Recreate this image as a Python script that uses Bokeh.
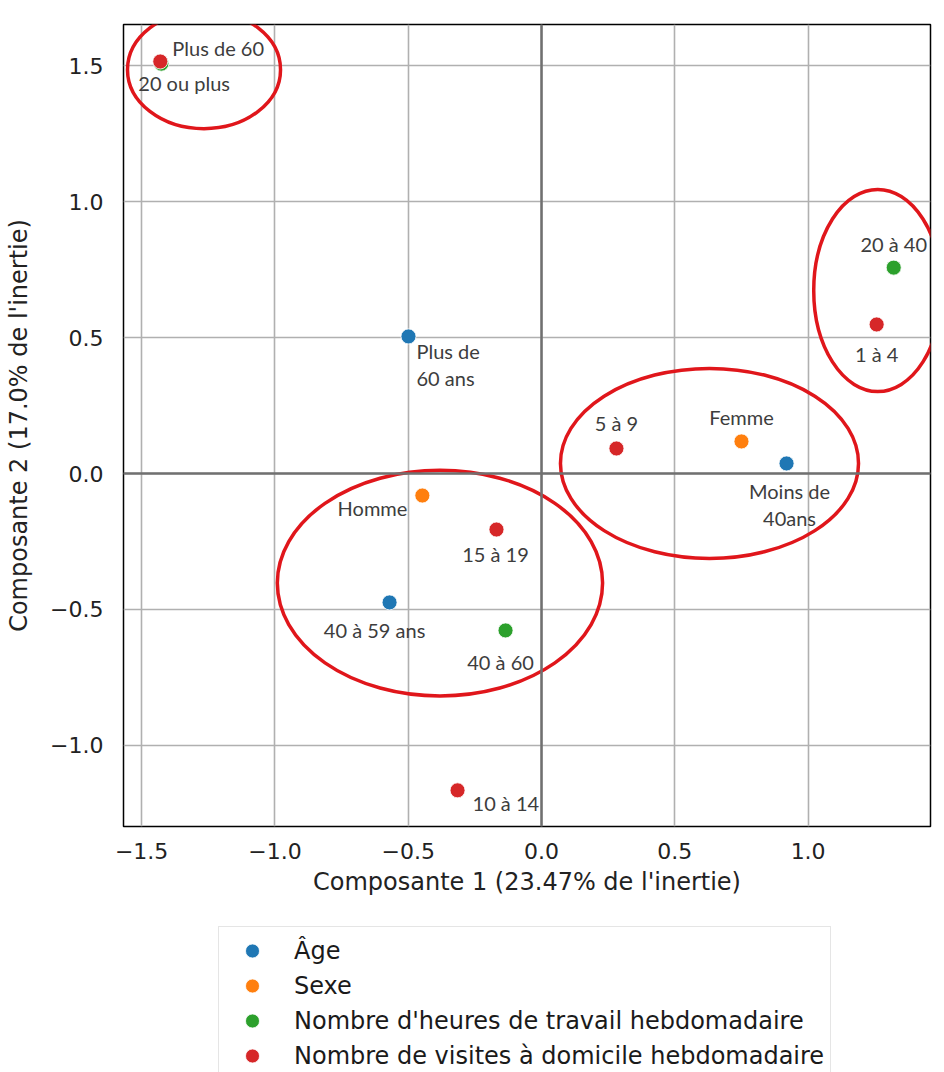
from bokeh.plotting import figure
from bokeh.layouts import column
from bokeh.models import Legend, LegendItem, FixedTicker, Span, ColumnDataSource
from bokeh.core.properties import value
from bokeh.embed import file_html
from bokeh.resources import INLINE

# ---------------- data ----------------
age_labels = ["Plus de\n60 ans", "Moins de\n40ans", "40 à 59 ans"]
age_x = [-0.499, 0.919, -0.570]
age_y = [0.504, 0.037, -0.474]

sexe_labels = ["Femme", "Homme"]
sexe_x = [0.750, -0.447]
sexe_y = [0.118, -0.081]

heures_labels = ["Plus de 60", "20 à 40", "40 à 60"]
heures_x = [-1.426, 1.321, -0.135]
heures_y = [1.507, 0.757, -0.577]

visites_labels = ["20 ou plus", "1 à 4", "5 à 9", "15 à 19", "10 à 14"]
visites_x = [-1.430, 1.257, 0.281, -0.169, -0.315]
visites_y = [1.515, 0.548, 0.092, -0.206, -1.165]

series_names = ["Âge", "Sexe", "Nombre d'heures de travail hebdomadaire",
                "Nombre de visites à domicile hebdomadaire"]

x_ticks = [-1.5, -1.0, -0.5, 0.0, 0.5, 1.0]
x_tick_labels = ["−1.5", "−1.0", "−0.5", "0.0", "0.5", "1.0"]
y_ticks = [-1.0, -0.5, 0.0, 0.5, 1.0, 1.5]
y_tick_labels = ["−1.0", "−0.5", "0.0", "0.5", "1.0", "1.5"]

x_title = "Composante 1 (23.47% de l'inertie)"
y_title = "Composante 2 (17.0% de l'inertie)"

# ---------------- styles ----------------
colors = ["#1f77b4", "#ff7f0e", "#2ca02c", "#d62728"]
# label placement: (x_offset px, y_offset px, align)
label_style = {
    "Plus de\n60 ans": (8, 28, "left"),
    "Moins de\n40ans": (3, 41, "center"),
    "40 à 59 ans": (-15, 28, "center"),
    "Femme": (0, -24, "center"),
    "Homme": (-15, 12, "right"),
    "Plus de 60": (11, -16, "left"),
    "20 à 40": (0, -24, "center"),
    "40 à 60": (-5, 32, "center"),
    "20 ou plus": (-22, 22, "left"),
    "1 à 4": (0, 30, "center"),
    "5 à 9": (0, -25, "center"),
    "15 à 19": (-1, 24, "center"),
    "10 à 14": (15, 13, "left"),
}
# hand-drawn red ellipses (center x, center y, width, height) in data units
ellipses = [
    (-1.266, 1.485, 0.574, 0.434),
    (1.261, 0.673, 0.48, 0.743),
    (0.630, 0.037, 1.118, 0.699),
    (-0.381, -0.403, 1.22, 0.83),
]

TICK_FONT = "DejaVu Sans"
LABEL_FONT = "Lato"

p = figure(width=944, height=910, output_backend="svg", toolbar_location=None,
           x_range=(-1.568, 1.459), y_range=(-1.298, 1.651),
           min_border_left=123, min_border_right=14, min_border_top=24,
           min_border_bottom=84, background_fill_color="white",
           border_fill_color="white")
p.outline_line_color = "black"
p.outline_line_width = 1.5

for ax, ticks, labels in ((p.xaxis[0], x_ticks, x_tick_labels), (p.yaxis[0], y_ticks, y_tick_labels)):
    ax.ticker = FixedTicker(ticks=ticks)
    ax.major_label_overrides = {t: l for t, l in zip(ticks, labels)}
    ax.major_tick_out = 0
    ax.major_tick_in = 0
    ax.minor_tick_out = 0
    ax.minor_tick_in = 0
    ax.axis_line_color = None
    ax.major_label_text_font = TICK_FONT
    ax.major_label_text_font_size = "22px"
    ax.major_label_text_color = "#222222"
    ax.axis_label_text_font = TICK_FONT
    ax.axis_label_text_font_size = "24px"
    ax.axis_label_text_font_style = "normal"
    ax.axis_label_text_color = "#222222"

p.xaxis.axis_label = x_title
p.yaxis.axis_label = y_title
p.xaxis.major_label_standoff = 16
p.xaxis.axis_label_standoff = 6
p.yaxis.major_label_standoff = 20
p.yaxis.axis_label_standoff = 14

p.xgrid.ticker = FixedTicker(ticks=x_ticks)
p.ygrid.ticker = FixedTicker(ticks=y_ticks)
p.grid.grid_line_color = "#b0b0b0"
p.grid.grid_line_width = 1.6

p.add_layout(Span(location=0, dimension="height", line_color="#707070", line_width=2.5))
p.add_layout(Span(location=0, dimension="width", line_color="#707070", line_width=2.5))

groups = [(age_labels, age_x, age_y), (sexe_labels, sexe_x, sexe_y),
          (heures_labels, heures_x, heures_y), (visites_labels, visites_x, visites_y)]

for (labs, xs, ys), col in zip(groups, colors):
    src = ColumnDataSource(dict(x=xs, y=ys, label=labs,
                                xo=[label_style[l][0] for l in labs],
                                yo=[label_style[l][1] for l in labs],
                                al=[label_style[l][2] for l in labs]))
    p.scatter("x", "y", source=src, size=15, fill_color=col, line_color="white",
              line_width=0.8)
    p.text("x", "y", text="label", source=src, x_offset="xo", y_offset="yo",
           text_align="al", text_baseline="middle", text_font=value(LABEL_FONT),
           text_font_size="20px", text_color="#3d3d3d", text_line_height=1.15)

p.ellipse(x=[e[0] for e in ellipses], y=[e[1] for e in ellipses],
          width=[e[2] for e in ellipses], height=[e[3] for e in ellipses],
          fill_color=None, line_color="#e0161b", line_width=3.5)

# ---------------- legend panel ----------------
pl = figure(width=944, height=162, output_backend="svg", toolbar_location=None,
            x_axis_type=None, y_axis_type=None, x_range=(0, 1), y_range=(0, 1),
            min_border_left=0, min_border_right=0, min_border_top=0, min_border_bottom=0,
            outline_line_color=None, background_fill_color="white", border_fill_color="white")
nan = float("nan")
leg_renderers = []
for col in colors:
    # legend swatches only: the points are NaN so nothing is drawn in this panel
    r = pl.scatter(x=[nan], y=[nan], size=15, fill_color=col, line_color="white", line_width=0.8)
    leg_renderers.append(r)

legend = Legend(items=[LegendItem(label=n, renderers=[r]) for n, r in zip(series_names, leg_renderers)],
                location=(95, -8), orientation="vertical")
legend.label_text_font = TICK_FONT
legend.label_text_font_size = "24px"
legend.label_text_color = "#1a1a1a"
legend.glyph_width = 54
legend.glyph_height = 35
legend.spacing = 0
legend.padding = 6
legend.label_standoff = 15
legend.border_line_color = "#cccccc"
legend.border_line_width = 1
legend.background_fill_color = "white"
legend.background_fill_alpha = 1.0
legend.margin = 0
pl.add_layout(legend)

layout = column(p, pl, spacing=0)
open("out.html", "w").write(file_html(layout, INLINE))
